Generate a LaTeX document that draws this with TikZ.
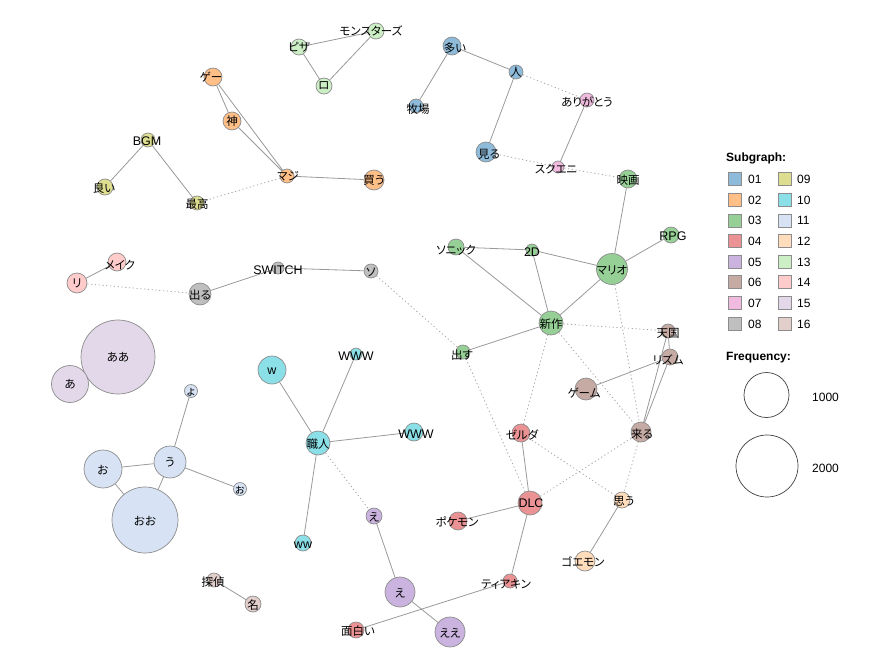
\documentclass[tikz,border=0pt]{standalone}
\usepackage{fontspec}
\setmainfont{Liberation Sans}
\newfontfamily\jp[RawFeature=+palt]{Noto Sans CJK JP}
\pgfdeclarelayer{bg}\pgfsetlayers{bg,main}
\definecolor{c01}{RGB}{143,187,218}
\definecolor{c02}{RGB}{255,191,135}
\definecolor{c03}{RGB}{150,208,150}
\definecolor{c04}{RGB}{235,147,148}
\definecolor{c05}{RGB}{202,179,222}
\definecolor{c06}{RGB}{198,171,165}
\definecolor{c07}{RGB}{241,187,224}
\definecolor{c08}{RGB}{191,191,191}
\definecolor{c09}{RGB}{222,222,145}
\definecolor{c10}{RGB}{139,223,231}
\definecolor{c11}{RGB}{215,227,244}
\definecolor{c12}{RGB}{255,221,188}
\definecolor{c13}{RGB}{204,239,197}
\definecolor{c14}{RGB}{255,204,203}
\definecolor{c15}{RGB}{226,216,234}
\definecolor{c16}{RGB}{226,206,202}
\newcommand\la[1]{{\normalfont\fontsize{12.5}{12.5}\selectfont #1}}
\newcommand\V[8]{%
  \node[vtx,fill=#5,minimum size=#4*2pt] (#1) at (#2,#3) {};
  \node[lbl] (#1-t) at (#6,#7) {#8};}
\tikzset{
  vtx/.style={circle,draw=black!45,line width=0.7pt,inner sep=0pt},
  lbl/.style={font=\jp\fontsize{11.5}{11.5}\selectfont,inner sep=0pt,text=black},
  edg/.style={draw=black!40,line width=0.8pt},
  dot/.style={draw=black!35,line width=0.8pt,dash pattern=on 1.2pt off 2.6pt},
  legbox/.style={rectangle,draw=black!45,line width=1pt,minimum size=13pt,inner sep=0pt},
  legtxt/.style={font=\fontsize{12}{12}\selectfont,anchor=west,inner sep=0pt},
  legtitle/.style={font=\bfseries\fontsize{12}{12}\selectfont,anchor=west,inner sep=0pt},
  freq/.style={circle,draw=black!75,line width=0.7pt,inner sep=0pt}
}
\begin{document}
\begin{tikzpicture}[x=1pt,y=-1pt]
\useasboundingbox (0,0) rectangle (886,664);
% group 13
\V{pz}{299}{47}{8}{c13}{299}{47}{ピザ}
\V{mon}{376}{31}{8}{c13}{371}{31}{モンスターズ}
\V{ro}{324}{86}{8}{c13}{324}{86}{ロ}
% group 02
\V{ge}{213}{77}{9}{c02}{211}{77}{ゲー}
\V{kami}{232}{121}{9}{c02}{232}{121}{神}
\V{maji}{287}{176}{7}{c02}{288}{176}{マジ}
\V{kau}{374}{180}{10}{c02}{374}{180}{買う}
% group 09
\V{bgm}{148}{140}{7}{c09}{147}{141}{\la{BGM}}
\V{yoi}{105}{187}{8}{c09}{104}{188}{良い}
\V{saikou}{197}{203}{7}{c09}{197}{204}{最高}
% group 01
\V{ooi}{452}{46}{9}{c01}{455}{48}{多い}
\V{hito}{516}{72}{7}{c01}{516}{72}{人}
\V{bokujo}{416}{106}{7}{c01}{418}{109}{牧場}
\V{miru}{486}{152}{10}{c01}{489}{154}{見る}
% group 07
\V{arigato}{587}{100}{7}{c07}{587}{102}{ありがとう}
\V{sukueni}{558}{167}{6}{c07}{556}{169}{スクエニ}
% group 03
\V{eiga}{628}{179}{9}{c03}{628}{180}{映画}
\V{rpg}{671}{235}{8}{c03}{673}{236}{\la{RPG}}
\V{mario}{612}{269}{15.5}{c03}{612}{270}{マリオ}
\V{twod}{532}{250}{6}{c03}{532}{252}{\la{2D}}
\V{sonic}{456}{247}{8}{c03}{456}{250}{ソニック}
\V{shinsaku}{551}{323}{12}{c03}{551}{324}{新作}
\V{dasu}{463}{352}{7}{c03}{462}{355}{出す}
% group 06
\V{tengoku}{668}{331}{7}{c06}{668}{333}{天国}
\V{rizumu}{670}{357}{8}{c06}{668}{360}{リズム}
\V{gemu}{586}{389}{11}{c06}{584}{393}{ゲーム}
\V{kuru}{641}{432}{10}{c06}{642}{434}{来る}
% group 04
\V{zeruda}{521}{433}{9}{c04}{522}{435}{ゼルダ}
\V{dlc}{530}{503}{12}{c04}{531}{503}{\la{DLC}}
\V{pokemon}{458}{521}{9}{c04}{457}{522}{ポケモン}
\V{tiakin}{510}{581}{7}{c04}{506}{584}{ティアキン}
\V{omoshiroi}{356}{630}{8}{c04}{358}{631}{面白い}
% group 12
\V{omou}{622}{500}{8}{c12}{624}{501}{思う}
\V{goemon}{585}{561}{10}{c12}{583}{562}{ゴエモン}
% group 05
\V{esm}{374}{516}{8}{c05}{374}{517}{え}
\V{e}{400}{592}{15}{c05}{400}{593}{え}
\V{ee}{450}{632}{15}{c05}{450}{633}{ええ}
% group 10
\V{w}{272}{370}{14}{c10}{272}{371}{\la{w}}
\V{wwwa}{356}{354}{6}{c10}{356}{356}{\la{WWW}}
\V{shokunin}{318}{443}{12}{c10}{318}{444}{職人}
\V{wwwb}{414}{432}{9}{c10}{416}{434}{\la{WWW}}
\V{ww}{303}{543}{8}{c10}{303}{545}{\la{ww}}
% group 11
\V{yo}{191}{391}{6.5}{c11}{191}{392}{ょ}
\V{u}{170}{462}{16}{c11}{170}{462}{う}
\V{o}{103}{469}{19}{c11}{103}{470}{お}
\V{oo}{145}{520}{33}{c11}{145}{521}{おお}
\V{osm}{240}{489}{6.5}{c11}{240}{490}{ぉ}
% group 15
\V{aa}{118}{357}{37}{c15}{118}{357}{ああ}
\V{a}{70}{384}{18.5}{c15}{70}{384}{あ}
% group 16
\V{tantei}{214}{580}{7}{c16}{213}{582}{探偵}
\V{na}{253}{604}{8}{c16}{253}{605}{名}
% group 08
\V{deru}{200}{294}{11}{c08}{200}{295}{出る}
\V{switch}{278}{268}{6}{c08}{278}{270}{\la{SWITCH}}
\V{so}{371}{271}{7}{c08}{371}{272}{ソ}
% group 14
\V{meiku}{117}{262}{9}{c14}{120}{265}{メイク}
\V{ri}{77}{283}{10}{c14}{77}{283}{リ}
% edges
\begin{pgfonlayer}{bg}
\draw[edg] (pz)--(mon) (pz)--(ro) (ro)--(mon);
\draw[edg] (ge)--(kami) (ge)--(maji) (kami)--(maji) (maji)--(kau);
\draw[dot] (maji)--(saikou);
\draw[edg] (bgm)--(yoi) (bgm)--(saikou);
\draw[edg] (ooi)--(bokujo) (ooi)--(hito) (hito)--(miru);
\draw[dot] (hito)--(arigato) (miru)--(sukueni);
\draw[edg] (arigato)--(sukueni);
\draw[dot] (sukueni)--(eiga);
\draw[edg] (eiga)--(mario) (rpg)--(mario) (twod)--(mario) (sonic)--(twod)
  (sonic)--(shinsaku) (twod)--(shinsaku) (mario)--(shinsaku) (shinsaku)--(dasu);
\draw[dot] (shinsaku)--(tengoku) (shinsaku)--(kuru) (shinsaku)--(zeruda)
  (mario)--(kuru) (so)--(dasu) (dasu)--(dlc);
\draw[edg] (deru)--(switch) (switch)--(so);
\draw[dot] (ri)--(deru);
\draw[edg] (ri)--(meiku);
\draw[edg] (yo)--(u) (u)--(o) (u)--(oo) (o)--(oo) (u)--(osm);
\draw[edg] (shokunin)--(w) (shokunin)--(wwwa) (shokunin)--(wwwb) (shokunin)--(ww);
\draw[dot] (shokunin)--(esm);
\draw[edg] (esm)--(e) (e)--(ee);
\draw[edg] (zeruda)--(dlc) (dlc)--(pokemon) (dlc)--(tiakin) (tiakin)--(omoshiroi);
\draw[dot] (dlc)--(kuru) (zeruda)--(omou) (kuru)--(omou);
\draw[edg] (gemu)--(rizumu) (tengoku)--(kuru) (rizumu)--(kuru) (tengoku)--(rizumu);
\draw[edg] (omou)--(goemon);
\draw[edg] (tantei)--(na);
\end{pgfonlayer}
% legend
\node[legtitle] (sgt) at (726,158) {Subgraph:};
\foreach \c/\n/\y in {01/09/179,02/10/200,03/11/220.5,04/12/241,05/13/262,06/14/282,07/15/303,08/16/324}{
  \node[legbox,fill=c\c] (lb\c) at (735,\y) {};
  \node[legtxt] (lt\c) at (748,\y) {\c};
  \node[legbox,fill=c\n] (lb\n) at (785,\y) {};
  \node[legtxt] (lt\n) at (797,\y) {\n};
}
\node[legtitle] (frt) at (726,358) {Frequency:};
\node[freq,minimum size=45pt] (f1) at (766.5,395) {};
\node[legtxt] (f1t) at (812,397) {1000};
\node[freq,minimum size=62pt] (f2) at (767,466) {};
\node[legtxt] (f2t) at (812,468) {2000};
\end{tikzpicture}
\end{document}
